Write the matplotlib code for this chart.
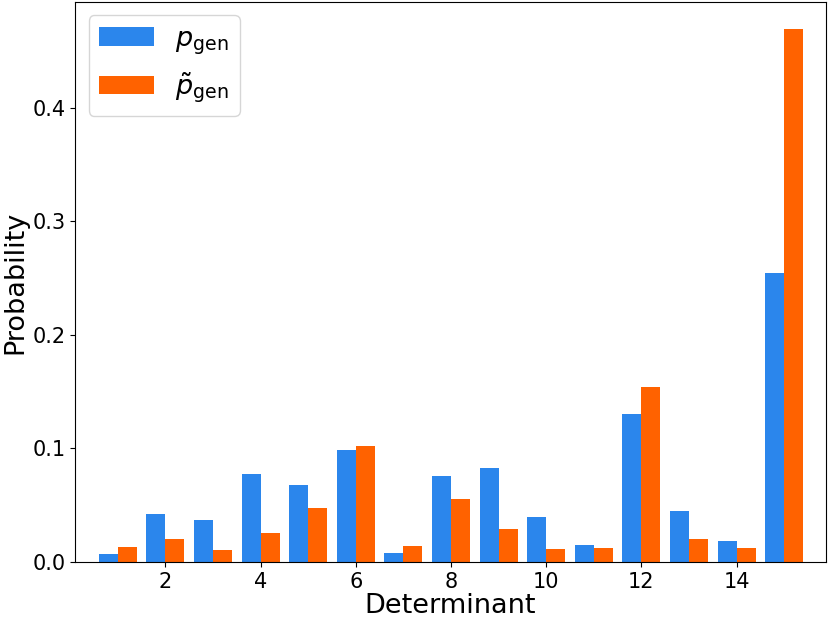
import numpy as np
import matplotlib
matplotlib.use("Agg")
import matplotlib.pyplot as plt

# determinant values and probabilities
determinants = np.arange(1, 16)
p_gen = [0.0068, 0.042, 0.0368, 0.0776, 0.0676, 0.0985, 0.0077, 0.0755,
         0.0826, 0.0394, 0.0150, 0.130, 0.045, 0.0189, 0.2546]
p_gen_tilde = [0.0136, 0.020, 0.0103, 0.0259, 0.0473, 0.102, 0.0139, 0.0559,
               0.0294, 0.0112, 0.0121, 0.154, 0.020, 0.0121, 0.4698]

blue = '#2b86ec'
orange = '#ff6200'
width = 0.4

fig = plt.figure(figsize=(8.29, 6.19), dpi=100)
ax = fig.add_axes([0.0905, 0.092, 0.906, 0.905])

ax.bar(determinants - width / 2, p_gen, width, color=blue, label=r'$p_{\mathrm{gen}}$')
ax.bar(determinants + width / 2, p_gen_tilde, width, color=orange, label=r'$\tilde{p}_{\mathrm{gen}}$')

ax.set_xlim(0.1, 15.88)
ax.set_xticks([2, 4, 6, 8, 10, 12, 14])
ax.set_yticks([0.0, 0.1, 0.2, 0.3, 0.4])
ax.tick_params(labelsize=15)
ax.set_xlabel('Determinant', fontsize=19.5, labelpad=1)
ax.set_ylabel('Probability', fontsize=19.5, labelpad=3)
ax.legend(loc='upper left', fontsize=19.5)

plt.savefig('out.png', dpi=100)
